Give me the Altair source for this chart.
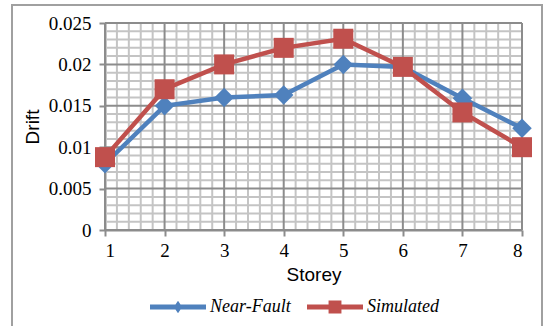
import altair as alt
import pandas as pd

# Inter-storey drift per storey for the two records
storeys = [1, 2, 3, 4, 5, 6, 7, 8]
near_fault = [0.0080, 0.0150, 0.0160, 0.0163, 0.0200, 0.0197, 0.0159, 0.0123]
simulated = [0.0088, 0.0170, 0.0200, 0.0220, 0.0231, 0.0197, 0.0142, 0.0100]

series_names = ["Near-Fault", "Simulated"]
series_colors = ["#4F81BD", "#C0504D"]
series_markers = ["diamond", "square"]
y_ticks = [0, 0.005, 0.01, 0.015, 0.02, 0.025]

df = pd.DataFrame({
    "Storey": storeys * 2,
    "Drift": near_fault + simulated,
    "Series": [series_names[0]] * len(storeys) + [series_names[1]] * len(storeys),
})

# grid: major lines on the ticks, four minor lines between each pair
minor_x = [1 + k / 5 for k in range(36) if k % 5]
minor_y = [k / 1000 for k in range(26) if k % 5]

SERIF = "'Liberation Serif', 'Times New Roman', 'DejaVu Serif', serif"
SANS = "'Liberation Sans', Arial, sans-serif"

x_scale = alt.Scale(domain=[1, 8], nice=False, zero=False)
y_scale = alt.Scale(domain=[0, 0.025], nice=False, zero=False)

axis_common = dict(
    grid=False,
    domainColor="#8c8c8c", domainWidth=2,
    tickColor="#8c8c8c", tickWidth=2, tickSize=6,
    labelFont=SERIF, labelFontSize=19, labelColor="black",
    titleFont=SANS, titleFontSize=19, titleFontWeight="normal",
    titleColor="black",
)
x_axis = alt.Axis(values=storeys, format="d", title="Storey",
                  labelPadding=5, titlePadding=5, **axis_common)
y_axis = alt.Axis(values=y_ticks, format="~g", title="Drift",
                  labelPadding=8, titlePadding=6, **axis_common)


def xenc():
    return alt.X("Storey:Q", scale=x_scale, axis=x_axis)


def yenc():
    return alt.Y("Drift:Q", scale=y_scale, axis=y_axis)


GRID_MINOR = "#c4c4c4"
GRID_MAJOR = "#8c8c8c"

# outer chart frame
frame = alt.Chart(pd.DataFrame({"f": [0]})).mark_rect(
    fill="white", fillOpacity=0, stroke="#a0a0a0", strokeWidth=2
).encode(x=alt.value(-93), x2=alt.value(437), y=alt.value(-18), y2=alt.value(310))

minor_v = alt.Chart(pd.DataFrame({"Storey": minor_x})).mark_rule(
    color=GRID_MINOR, strokeWidth=2).encode(x=xenc())
minor_h = alt.Chart(pd.DataFrame({"Drift": minor_y})).mark_rule(
    color=GRID_MINOR, strokeWidth=2).encode(y=yenc())
major_v = alt.Chart(pd.DataFrame({"Storey": storeys})).mark_rule(
    color=GRID_MAJOR, strokeWidth=2).encode(x=xenc())
major_h = alt.Chart(pd.DataFrame({"Drift": y_ticks})).mark_rule(
    color=GRID_MAJOR, strokeWidth=2).encode(y=yenc())

layers = [frame, minor_v, minor_h, major_v, major_h]

# each series drawn in turn: its line, then its markers
for name, colour, marker in zip(series_names, series_colors, series_markers):
    base = alt.Chart(df).transform_filter(alt.datum.Series == name)
    line = base.mark_line(strokeWidth=4.5, color=colour).encode(x=xenc(), y=yenc())
    pts = base.mark_point(filled=True, opacity=1, color=colour, shape=marker,
                          size=380 if marker == "diamond" else 400).encode(
        x=xenc(), y=yenc())
    layers += [line, pts]

# legend entries: a thick line with the series marker in its middle
legend_paths = [
    "M-1,-0.09H1V0.09H-1Z M0,-0.22L0.15,0L0,0.22L-0.15,0Z",
    "M-1,-0.09H1V0.09H-1Z M-0.23,-0.23H0.23V0.23H-0.23Z",
]
legend_def = alt.Legend(
    orient="none", legendX=45, legendY=256, direction="horizontal",
    title=None, symbolSize=3136, symbolStrokeWidth=0, symbolOpacity=1,
    labelFont=SERIF, labelFontStyle="italic", labelFontSize=18,
    labelColor="black", columnPadding=16, labelOffset=4,
)
legend_layer = alt.Chart(df).mark_point(filled=True, opacity=0).encode(
    x=xenc(), y=yenc(),
    fill=alt.Fill("Series:N", scale=alt.Scale(domain=series_names, range=series_colors),
                  legend=legend_def),
    shape=alt.Shape("Series:N", scale=alt.Scale(domain=series_names, range=legend_paths),
                    legend=legend_def),
)
layers.append(legend_layer)

chart = alt.layer(*layers).properties(
    width=417, height=207,
    autosize=alt.AutoSizeParams(type="none"),
    padding={"left": 105, "top": 23, "right": 25, "bottom": 96},
    background="white",
).configure_view(strokeWidth=0)

chart.save("out.html", embed_options={"renderer": "svg", "actions": False})
